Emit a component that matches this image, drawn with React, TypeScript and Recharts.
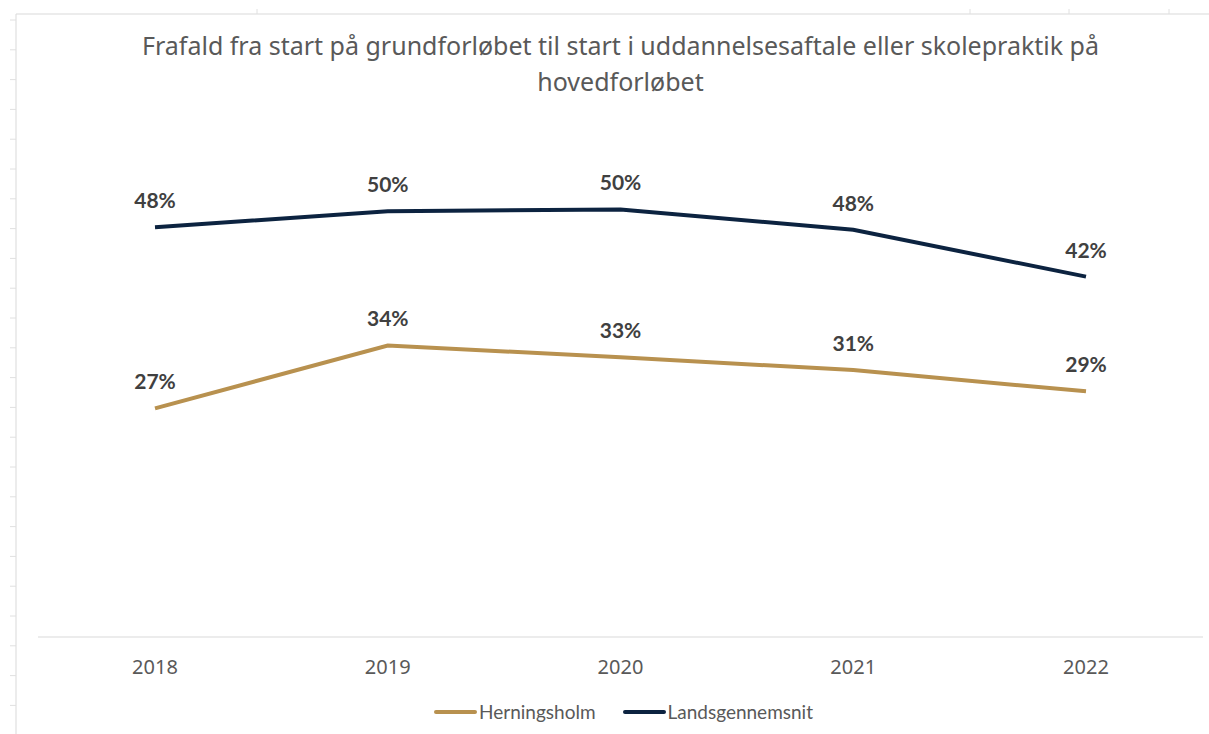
import React from "react";
import {
  LineChart,
  Line,
  XAxis,
  YAxis,
  Legend,
  LabelList,
} from "recharts";

const years = ["2018", "2019", "2020", "2021", "2022"];
const herningsholm = [26.9, 34.3, 32.9, 31.4, 28.9];
const landsgennemsnit = [48.2, 50.1, 50.3, 47.9, 42.4];

const titleLines = [
  "Frafald fra start på grundforløbet til start i uddannelsesaftale eller skolepraktik på",
  "hovedforløbet",
];

const series = [
  { key: "herningsholm", name: "Herningsholm", color: "#B8914F" },
  { key: "landsgennemsnit", name: "Landsgennemsnit", color: "#0C2340" },
];

const data = years.map((year, i) => ({
  year,
  herningsholm: herningsholm[i],
  landsgennemsnit: landsgennemsnit[i],
}));

const W = 1209;
const H = 734;

// spreadsheet grid bits peeking around the chart frame
const sideTicks = Array.from({ length: 24 }, (_, i) => 20 + i * 29.8);
const topTicks = [257, 970, 1069, 1169];

const pct = (v: any) => `${Math.round(Number(v))}%`;

const LegendContent = () => (
  <div
    style={{
      display: "flex",
      justifyContent: "center",
      gap: 27,
      fontFamily: "Lato, sans-serif",
      fontSize: 19,
      color: "#595959",
      paddingLeft: 6,
    }}
  >
    {series.map((s) => (
      <div key={s.key} style={{ display: "flex", alignItems: "center" }}>
        <span
          style={{
            display: "inline-block",
            width: 43,
            height: 4,
            borderRadius: 2,
            background: s.color,
            marginRight: 2,
          }}
        />
        {s.name}
      </div>
    ))}
  </div>
);

export default function App() {
  return (
    <div
      style={{
        position: "absolute",
        left: 0,
        top: 0,
        width: W,
        height: H,
        background: "#fff",
        overflow: "hidden",
      }}
    >
      <svg
        width={W}
        height={H}
        style={{ position: "absolute", left: 0, top: 0 }}
      >
        <line x1={16} y1={14} x2={W} y2={14} stroke="#d9d9d9" strokeWidth={1} />
        <line x1={16} y1={14} x2={16} y2={H} stroke="#d9d9d9" strokeWidth={1} />
        {sideTicks.map((y) => (
          <line key={y} x1={10} y1={y} x2={16} y2={y} stroke="#e0e0e0" />
        ))}
        {topTicks.map((x) => (
          <line key={x} x1={x} y1={9} x2={x} y2={14} stroke="#e0e0e0" />
        ))}
      </svg>

      <div
        style={{
          position: "absolute",
          left: 0,
          top: 27,
          width: 1241,
          textAlign: "center",
          fontFamily: "'Noto Sans', sans-serif",
          fontSize: 25,
          lineHeight: "36px",
          color: "#595959",
        }}
      >
        {titleLines.map((t) => (
          <div key={t}>{t}</div>
        ))}
      </div>

      <div style={{ position: "absolute", left: 0, top: 0 }}>
        <LineChart
          width={W}
          height={H}
          data={data}
          margin={{ top: 127, right: 6, bottom: 44, left: 38 }}
        >
          <XAxis
            dataKey="year"
            axisLine={{ stroke: "#d9d9d9", strokeWidth: 1 }}
            tickLine={false}
            tickSize={0}
            tickMargin={23}
            padding={{ left: 117, right: 117 }}
            tick={{
              fill: "#595959",
              fontSize: 20,
              fontFamily: "'Noto Sans', sans-serif",
            }}
          />
          <YAxis hide domain={[0, 60]} />
          <Legend
            verticalAlign="bottom"
            content={<LegendContent />}
            wrapperStyle={{ bottom: 11 }}
          />
          {series.map((s) => (
            <Line
              key={s.key}
              dataKey={s.key}
              name={s.name}
              stroke={s.color}
              strokeWidth={4}
              dot={false}
              type="linear"
              isAnimationActive={false}
            >
              <LabelList
                dataKey={s.key}
                position="top"
                offset={19}
                formatter={pct}
                fill="#404040"
                fontSize={21}
                fontWeight="bold"
                fontFamily="Lato, sans-serif"
              />
            </Line>
          ))}
        </LineChart>
      </div>
    </div>
  );
}
